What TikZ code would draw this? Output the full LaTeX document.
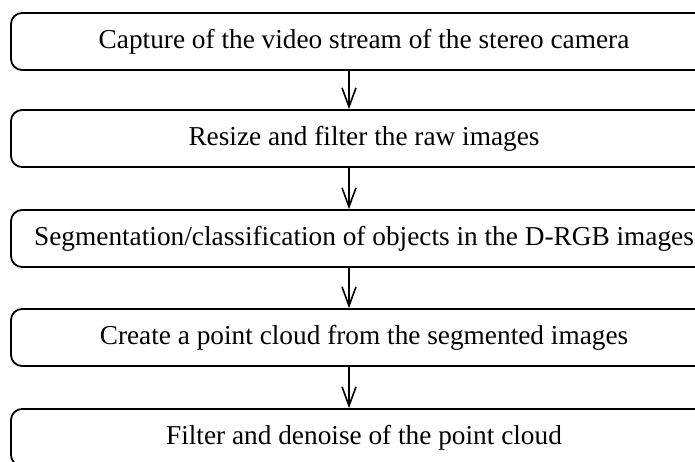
\documentclass[tikz,border=0pt]{standalone}
\usepackage{fontspec}
\setmainfont{Liberation Serif}
\usetikzlibrary{arrows.meta}
\tikzset{
  stage/.style={draw, line width=1.8pt, rounded corners=11pt,
    minimum width=706pt, minimum height=57pt, inner sep=0pt,
    font=\fontsize{27.3}{31}\selectfont},
  flow/.style={line width=1.6pt, -{Straight Barb[length=19pt,width=14pt,line width=1.6pt]}}
}
\begin{document}
\begin{tikzpicture}[x=1pt,y=1pt]
  \useasboundingbox (0,0) rectangle (695,-461);
  \clip (0,0) rectangle (695,-461);
  \node[stage] (s1) at (364,-41.5)  {Capture of the video stream of the stereo camera};
  \node[stage] (s2) at (364,-138.5) {Resize and filter the raw images};
  \node[stage] (s3) at (364,-238.5) {Segmentation/classification of objects in the D-RGB images};
  \node[stage] (s4) at (364,-337.5) {Create a point cloud from the segmented images};
  \node[stage] (s5) at (364,-437.5) {Filter and denoise of the point cloud};
  \coordinate (ax) at (349,0);
  \draw[flow] (s1.south -| ax) -- (s2.north -| ax);
  \draw[flow] (s2.south -| ax) -- (s3.north -| ax);
  \draw[flow] (s3.south -| ax) -- (s4.north -| ax);
  \draw[flow] (s4.south -| ax) -- (s5.north -| ax);
\end{tikzpicture}
\end{document}
